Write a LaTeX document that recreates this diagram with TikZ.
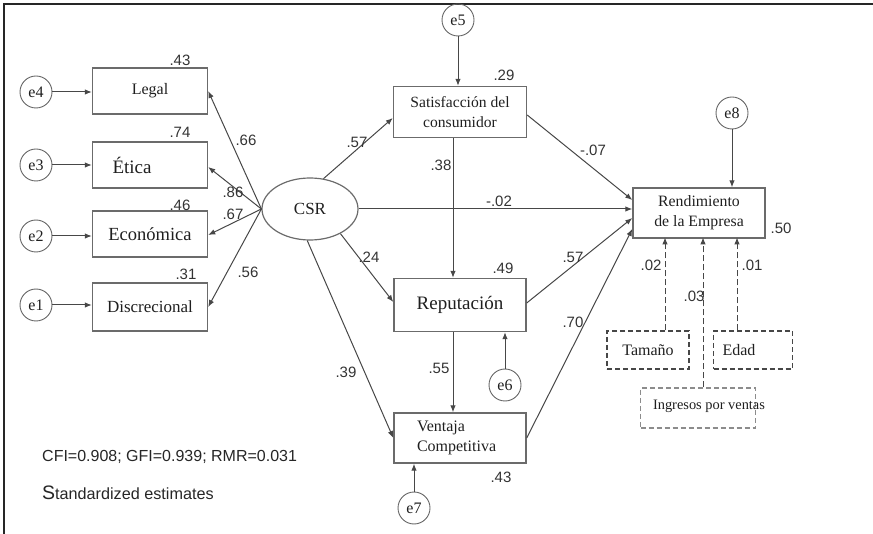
\documentclass[tikz,border=0pt]{standalone}
\usepackage{fontspec}
\setmainfont{Liberation Serif}
\newfontfamily\arial{Liberation Sans}
\usetikzlibrary{arrows.meta,shapes.geometric,calc}
\newcommand{\fs}[1]{\fontsize{#1}{#1}\selectfont}
\begin{document}
\begin{tikzpicture}[x=1pt,y=-1pt,
  conn/.style={draw=black!72, line width=1pt},
  arr/.style={conn, -{Latex[length=7pt,width=5.5pt]}},
  box/.style={draw=black!58, line width=1.4pt, minimum width=115pt, minimum height=46pt, inner sep=2pt, font=\fs{16}, align=center, text=black!88},
  err/.style={circle, draw=black!60, line width=0.9pt, minimum size=32pt, inner sep=0pt, font=\fs{16}, text=black!88},
  num/.style={font=\arial\fs{15}, inner sep=0pt, text=black!80},
  dbox/.style={draw=black!72, dash pattern=on 5pt off 3pt, line width=1.2pt, minimum height=38pt, inner sep=2pt, font=\fs{16}, text=black!88},
  darr/.style={draw=black!72, line width=1pt, dash pattern=on 6pt off 3pt, -{Latex[length=7pt,width=5.5pt]}},
  frameline/.style={draw=black!85, line width=2pt}
]
\useasboundingbox (0,0) rectangle (873,534);
\coordinate (fa) at (4,534);
\coordinate (fb) at (4,4);
\coordinate (fc) at (873,4);
\draw[frameline] (fa) -- (fb) -- (fc);

% left indicator boxes
\node[box] (legal) at (150,91) {Legal};
\node[box, align=left, text width=75pt, inner xsep=20pt, font=\fs{19}] (eti) at (150,165) {Ética};
\node[box, font=\fs{18.5}] (eco) at (150,234) {Económica};
\node[box, minimum height=48pt, font=\fs{17}] (disc) at (150,307) {Discrecional};
\node[err] (e4) at (36,92) {e4};
\node[err] (e3) at (36,165) {e3};
\node[err] (e2) at (36,236) {e2};
\node[err] (e1) at (36,305) {e1};
\draw[arr] (e4) -- (e4 -| legal.west);
\draw[arr] (e3) -- (e3 -| eti.west);
\draw[arr] (e2) -- (e2 -| eco.west);
\draw[arr] (e1) -- (e1 -| disc.west);

% CSR
\node[ellipse, draw=black!58, line width=1.2pt, minimum width=96pt, minimum height=62pt, inner sep=0pt, font=\fs{17}, text=black!88] (csr) at (310,209) {CSR};
\draw[arr] (csr.west) -- (legal.east);
\draw[arr] (csr.west) -- ([yshift=-2pt]eti.east);
\draw[arr] (csr.west) -- ([yshift=-1pt]eco.east);
\draw[arr] (csr.west) -- (disc.east);

% middle boxes
\node[box, minimum width=133pt, minimum height=51pt, font=\fontsize{15.6}{20}\selectfont] (sat) at (460,112) {Satisfacción del\\consumidor};
\node[box, minimum width=132pt, minimum height=53pt, font=\fs{19}] (rep) at (460,305) {Reputación};
\node[box, minimum width=132pt, minimum height=50pt, align=left, text width=86pt, inner xsep=23pt, font=\fontsize{16}{20}\selectfont] (vent) at (460,438) {Ventaja\\Competitiva};
\node[err] (e5) at (458,20) {e5};
\node[err] (e6) at (505,385) {e6};
\node[err] (e7) at (414,508) {e7};
\draw[arr] (e5) -- (e5 |- sat.north);
\draw[arr] (e6) -- (e6 |- rep.south);
\draw[arr] (e7) -- (e7 |- vent.south);

\draw[arr] (csr.66) -- ([yshift=-6pt]sat.west);
\draw[arr] (csr.-39) -- ([yshift=3pt]rep.west);
\draw[arr] (csr.-95) -- (vent.west);
\draw[arr] ([xshift=-7pt]sat.south) -- ([xshift=-7pt]rep.north);
\draw[arr] ([xshift=-7pt]rep.south) -- ([xshift=-7pt]vent.north);

% outcome
\node[box, minimum width=132pt, minimum height=50pt, font=\fontsize{15.8}{20}\selectfont] (rend) at (699,213) {Rendimiento\\de la Empresa};
\node[err] (e8) at (732,113) {e8};
\draw[arr] (e8) -- (e8 |- rend.north);
\draw[arr] ([yshift=-3pt]sat.east) -- ([yshift=13pt]rend.west);
\draw[arr] (csr.east) -- (csr.east -| rend.west);
\draw[arr] ([yshift=2pt]rep.east) -- ([yshift=-5pt]rend.west);
\draw[arr] (vent.east) -- ([yshift=-16pt]rend.west);

% controls
\node[dbox, minimum width=82pt] (tam) at (648,350) {Tamaño};
\node[dbox, minimum width=79pt, align=left, text width=61pt, inner xsep=9pt] (edad) at (753,350) {\raisebox{-3pt}{Edad}};
\node[dbox, draw=black!45, minimum width=115pt, minimum height=40pt] (ing) at (698,408) {};
\node[font=\fontsize{14.4}{16}\selectfont, text=black!88, inner sep=0pt] (ingt) at (709,406) {Ingresos por ventas};
\draw[darr] ([xshift=17pt]tam.north) -- ++(0,-93);
\draw[darr] ([xshift=5pt]ing.north) -- ++(0,-150);
\draw[darr] ([xshift=-16pt]edad.north) -- ++(0,-93);

% numbers
\node[num] (n1) at (180,60) {.43};
\node[num] (n2) at (180,132) {.74};
\node[num] (n3) at (180,205) {.46};
\node[num] (n4) at (186,274) {.31};
\node[num] (n5) at (246,140) {.66};
\node[num] (n6) at (233,192) {.86};
\node[num] (n7) at (233,214) {.67};
\node[num] (n8) at (248,272) {.56};
\node[num] (n9) at (357,142) {.57};
\node[num] (n10) at (504,75) {.29};
\node[num] (n11) at (441,165) {.38};
\node[num] (n12) at (499,201) {-.02};
\node[num] (n13) at (593,150) {-.07};
\node[num] (n14) at (369,257) {.24};
\node[num] (n15) at (503,268) {.49};
\node[num] (n16) at (573,257) {.57};
\node[num] (n17) at (573,322) {.70};
\node[num] (n18) at (781,228) {.50};
\node[num] (n19) at (651,265) {.02};
\node[num] (n20) at (694,296) {.03};
\node[num] (n21) at (752,265) {.01};
\node[num] (n22) at (439,368) {.55};
\node[num] (n23) at (346,372) {.39};
\node[num] (n24) at (501,477) {.43};

% fit text
\node[anchor=west, inner sep=0pt, font=\arial\fs{16}, text=black!85] (fit) at (42,457) {CFI=0.908; GFI=0.939; RMR=0.031};
\node[anchor=west, inner sep=0pt, font=\arial\fs{16.2}, text=black!85] (std) at (42,493) {{\fs{19.5}S}tandardized estimates};
\end{tikzpicture}
\end{document}
